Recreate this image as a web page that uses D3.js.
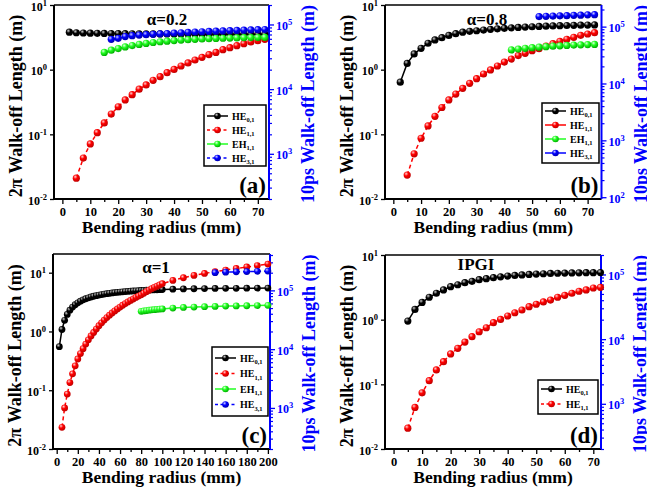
<!DOCTYPE html>
<html>
<head>
<meta charset="utf-8">
<script src="https://cdn.jsdelivr.net/npm/d3@7"></script>
<style>
  body { margin: 0; background: #fff; }
  svg { display: block; }
  text { font-family: "Liberation Serif", "Times New Roman", serif; font-weight: bold; }
</style>
</head>
<body>
<svg id="fig" width="647" height="490"></svg>
<script>
// ---------- Bending radius grids (mm) ----------
const gridAB = [2.5, 5, 7.5, 10, 12.5, 15, 17.5, 20, 22.5, 25, 27.5, 30, 32.5, 35, 37.5, 40,
  42.5, 45, 47.5, 50, 52.5, 55, 57.5, 60, 62.5, 65, 67.5, 70, 72.5];
const gridC = [2.5, 5, 7.5, 10, 12.5, 15, 17.5, 20, 22.5, 25, 27.5, 30, 32.5, 35, 37.5, 40,
  42.5, 45, 47.5, 50, 52.5, 55, 57.5, 60, 62.5, 65, 67.5, 70, 72.5, 75, 77.5, 80, 82.5, 85,
  87.5, 90, 92.5, 95, 97.5, 100, 110, 120, 130, 140, 150, 160, 170, 180, 190, 200];
const gridD = [5, 7.5, 10, 12.5, 15, 17.5, 20, 22.5, 25, 27.5, 30, 32.5, 35, 37.5, 40, 42.5,
  45, 47.5, 50, 52.5, 55, 57.5, 60, 62.5, 65, 67.5, 70, 72.5];

// ---------- (a) alpha = 0.2 ----------
const a_HE01 = [3.80, 3.72, 3.69, 3.67, 3.65, 3.63, 3.62, 3.61, 3.60, 3.59, 3.58, 3.58, 3.57, 3.57,
  3.56, 3.56, 3.55, 3.55, 3.55, 3.54, 3.54, 3.54, 3.53, 3.53, 3.53, 3.53, 3.52, 3.52, 3.52];
const a_HE11 = [0.021, 0.043, 0.071, 0.106, 0.15, 0.206, 0.267, 0.34, 0.41, 0.50, 0.58, 0.685,
  0.78, 0.90, 1.01, 1.14, 1.27, 1.41, 1.55, 1.71, 1.85, 2.04, 2.19, 2.35, 2.52, 2.68, 2.80, 2.95];
const a_EH11 = [1.85, 2.0, 2.12, 2.25, 2.36, 2.46, 2.55, 2.63, 2.70, 2.76, 2.82, 2.87, 2.91, 2.95,
  2.98, 3.01, 3.04, 3.06, 3.08, 3.10, 3.12, 3.13, 3.14, 3.15];
const a_HE31 = [5.9e4, 6.1e4, 6.5e4, 6.7e4, 6.85e4, 6.95e4, 7.05e4, 7.15e4, 7.25e4, 7.35e4, 7.45e4,
  7.55e4, 7.65e4, 7.72e4, 7.8e4, 7.88e4, 7.95e4, 8.02e4, 8.1e4, 8.17e4, 8.24e4, 8.3e4, 8.36e4];

// ---------- (b) alpha = 0.8 ----------
const b_HE01 = [0.64, 1.25, 1.75, 2.14, 2.56, 2.88, 3.12, 3.39, 3.6, 3.8, 3.92, 4.0, 4.1, 4.2,
  4.28, 4.36, 4.43, 4.5, 4.56, 4.61, 4.66, 4.71, 4.75, 4.79, 4.82, 4.85, 4.88, 4.9, 4.92];
const b_HE11 = [0.0234, 0.050, 0.087, 0.135, 0.19, 0.26, 0.34, 0.42, 0.515, 0.615, 0.725, 0.857,
  0.99, 1.14, 1.31, 1.46, 1.65, 1.79, 1.96, 2.11, 2.32, 2.52, 2.74, 2.95, 3.16, 3.4, 3.56, 3.73];
const b_EH11 = [2.02, 2.08, 2.14, 2.19, 2.23, 2.27, 2.31, 2.34, 2.37, 2.40, 2.42, 2.44, 2.46];
const b_HE31 = [1.50e5, 1.52e5, 1.53e5, 1.55e5, 1.56e5, 1.58e5, 1.59e5, 1.61e5, 1.62e5];

// ---------- (c) alpha = 1 ----------
const c_HE01 = [0.55, 1.08, 1.55, 1.95, 2.3, 2.6, 2.85, 3.07, 3.27, 3.45, 3.6, 3.74, 3.86, 3.97,
  4.07, 4.16, 4.24, 4.32, 4.39, 4.46, 4.52, 4.58, 4.63, 4.68, 4.73, 4.77, 4.81, 4.85, 4.89, 4.92,
  4.95, 4.98, 5.01, 5.04, 5.06, 5.09, 5.11, 5.13, 5.15, 5.17, 5.24, 5.29, 5.33, 5.36, 5.39, 5.41,
  5.43, 5.45, 5.46, 5.47];
const c_HE11 = [0.0234, 0.05, 0.086, 0.135, 0.19, 0.26, 0.34, 0.42, 0.51, 0.61, 0.72, 0.84, 0.96,
  1.10, 1.25, 1.40, 1.56, 1.72, 1.89, 2.06, 2.24, 2.42, 2.60, 2.79, 2.98, 3.18, 3.38, 3.58, 3.8,
  4.0, 4.2, 4.47, 4.75, 5.05, 5.35, 5.62, 5.9, 6.2, 6.5, 7.4, 8.2, 9.0, 9.7, 10.4, 11.1, 11.8,
  12.5, 13.2, 14.0];
const c_EH11 = [2.2, 2.24, 2.27, 2.3, 2.33, 2.35, 2.38, 2.4, 2.42, 2.5, 2.56, 2.6, 2.64, 2.67, 2.7,
  2.72, 2.74, 2.76, 2.78];
const c_HE31 = [2.0e5, 2.04e5, 2.07e5, 2.09e5, 2.11e5, 2.13e5];

// ---------- (d) IPGI ----------
const d_HE01 = [0.95, 1.44, 1.85, 2.22, 2.56, 2.88, 3.24, 3.47, 3.73, 3.92, 4.15, 4.3, 4.46, 4.6,
  4.73, 4.83, 4.92, 5.0, 5.07, 5.13, 5.18, 5.22, 5.25, 5.28, 5.3, 5.32, 5.33, 5.34];
const d_HE11 = [0.021, 0.044, 0.074, 0.114, 0.167, 0.224, 0.295, 0.36, 0.45, 0.546, 0.65, 0.75,
  0.90, 1.01, 1.14, 1.28, 1.41, 1.59, 1.73, 1.88, 2.01, 2.22, 2.38, 2.56, 2.75, 2.88, 3.09, 3.16];

// ---------- labels ----------
const xTitle = "Bending radius (mm)";
const yLeftTitle = "2\u03c0 Walk-off Length (m)";
const yRightTitle = "10ps Walk-off Length (m)";

// ---------- mode styles ----------
const modes = {
  HE01: { base: "HE", sub: "0,1", color: "#000000", light: "#d0d0d0", dark: "#000000" },
  HE11: { base: "HE", sub: "1,1", color: "#ff0000", light: "#ffd0d0", dark: "#c00000" },
  EH11: { base: "EH", sub: "1,1", color: "#22ff22", light: "#e0ffe0", dark: "#00b000" },
  HE31: { base: "HE", sub: "3,1", color: "#0000ff", light: "#d0d0ff", dark: "#0000b0" }
};

const svg = d3.select("#fig");
const defs = svg.append("defs");
Object.entries(modes).forEach(([k, m]) => {
  const gr = defs.append("radialGradient").attr("id", "ball-" + k)
    .attr("cx", "38%").attr("cy", "35%").attr("r", "65%").attr("fx", "35%").attr("fy", "30%");
  gr.append("stop").attr("offset", "0%").attr("stop-color", m.light);
  gr.append("stop").attr("offset", "45%").attr("stop-color", m.color);
  gr.append("stop").attr("offset", "100%").attr("stop-color", m.dark);
});

function powLabel(sel, d) {
  const e = Math.round(Math.log10(d));
  sel.text(null);
  sel.append("tspan").text("10");
  sel.append("tspan").attr("dy", -5).attr("font-size", 8.5).text(e);
}

function minorLogTicks(domain) {
  const out = [];
  for (let e = Math.floor(Math.log10(domain[0])); e <= Math.ceil(Math.log10(domain[1])); e++) {
    for (let m = 2; m <= 9; m++) {
      const v = m * Math.pow(10, e);
      if (v >= domain[0] && v <= domain[1]) out.push(v);
    }
  }
  return out;
}

function drawPanel(p) {
  const g = svg.append("g");
  const x = d3.scaleLinear().domain(p.xDomain).range([p.left, p.right]);
  const yL = d3.scaleLog().domain(p.yLeft).range([p.bottom, p.top]);
  const yR = d3.scaleLog().domain(p.yRight).range([p.bottom, p.top]);

  // bottom axis: minor then major ticks
  g.append("g").attr("transform", `translate(0,${p.bottom})`)
    .call(d3.axisBottom(x).tickValues(p.xMinor).tickSize(3).tickSizeOuter(0).tickFormat(""))
    .call(s => s.select(".domain").remove())
    .call(s => s.selectAll("line").attr("stroke", "#000").attr("stroke-width", 1.3));
  g.append("g").attr("transform", `translate(0,${p.bottom})`)
    .call(d3.axisBottom(x).tickValues(p.xMajor).tickSize(5).tickSizeOuter(0).tickPadding(3)
      .tickFormat(d3.format("d")))
    .call(s => s.select(".domain").remove())
    .call(s => s.selectAll("line").attr("stroke", "#000").attr("stroke-width", 1.3))
    .call(s => s.selectAll("text").attr("font-size", 12.5).attr("fill", "#000")
      .attr("font-family", "Liberation Serif").attr("font-weight", "bold"));

  // left axis
  g.append("g").attr("transform", `translate(${p.left},0)`)
    .call(d3.axisLeft(yL).tickValues(p.yLeftTicks).tickSize(4).tickSizeOuter(0).tickPadding(3))
    .call(s => s.select(".domain").remove())
    .call(s => s.selectAll("line").attr("stroke", "#000").attr("stroke-width", 1.3))
    .call(s => s.selectAll("text").attr("font-size", 12).attr("fill", "#000")
      .attr("font-family", "Liberation Serif").attr("font-weight", "bold").attr("dy", "0.42em")
      .each(function (d) { powLabel(d3.select(this), d); }));

  // right axis (blue)
  g.append("g").attr("transform", `translate(${p.right},0)`)
    .call(d3.axisRight(yR).tickValues(minorLogTicks(p.yRight)).tickSize(3).tickSizeOuter(0).tickFormat(""))
    .call(s => s.select(".domain").remove())
    .call(s => s.selectAll("line").attr("stroke", "#0000ff").attr("stroke-width", 1.2));
  g.append("g").attr("transform", `translate(${p.right},0)`)
    .call(d3.axisRight(yR).tickValues(p.yRightTicks).tickSize(5).tickSizeOuter(0).tickPadding(2))
    .call(s => s.select(".domain").remove())
    .call(s => s.selectAll("line").attr("stroke", "#0000ff").attr("stroke-width", 1.3))
    .call(s => s.selectAll("text").attr("font-size", 12).attr("fill", "#0000ff")
      .attr("font-family", "Liberation Serif").attr("font-weight", "bold").attr("dy", "0.42em")
      .each(function (d) { powLabel(d3.select(this), d); }));

  // frame
  g.append("line").attr("x1", p.left).attr("x2", p.right).attr("y1", p.top).attr("y2", p.top)
    .attr("stroke", "#000").attr("stroke-width", 1.6);
  g.append("line").attr("x1", p.left).attr("x2", p.right).attr("y1", p.bottom).attr("y2", p.bottom)
    .attr("stroke", "#000").attr("stroke-width", 2);
  g.append("line").attr("x1", p.left).attr("x2", p.left).attr("y1", p.top).attr("y2", p.bottom)
    .attr("stroke", "#000").attr("stroke-width", 2);
  g.append("line").attr("x1", p.right).attr("x2", p.right).attr("y1", p.top).attr("y2", p.bottom)
    .attr("stroke", "#0000ff").attr("stroke-width", 2);

  // series
  p.series.forEach(s => {
    const m = modes[s.mode];
    const y = s.axis === "right" ? yR : yL;
    const pts = s.x.map((r, i) => [r, s.y[i]]);
    g.append("path")
      .attr("d", d3.line().x(d => x(d[0])).y(d => y(d[1]))(pts))
      .attr("fill", "none").attr("stroke", m.color).attr("stroke-width", 1.5)
      .attr("stroke-dasharray", s.dashed ? "4,3" : null);
    g.append("g").selectAll("circle").data(pts).join("circle")
      .attr("cx", d => x(d[0])).attr("cy", d => y(d[1])).attr("r", p.r)
      .attr("fill", `url(#ball-${s.mode})`);
  });

  // legend
  const L = p.legend;
  g.append("rect").attr("x", L.x).attr("y", L.y).attr("width", L.w).attr("height", L.h)
    .attr("fill", "#fff").attr("stroke", "#000").attr("stroke-width", 1.5);
  L.items.forEach((it, i) => {
    const m = modes[it.mode];
    const cy = L.y + L.first + i * L.step;
    g.append("line").attr("x1", L.x + 3).attr("x2", L.x + 24).attr("y1", cy).attr("y2", cy)
      .attr("stroke", m.color).attr("stroke-width", 1.5)
      .attr("stroke-dasharray", it.dashed ? "3,2.5" : null);
    g.append("circle").attr("cx", L.x + 13.5).attr("cy", cy).attr("r", 3.3)
      .attr("fill", `url(#ball-${it.mode})`);
    const t = g.append("text").attr("x", L.x + 28).attr("y", cy + 3.5).attr("font-size", 10);
    t.append("tspan").text(m.base);
    t.append("tspan").attr("dy", 2.5).attr("font-size", 6.5).text(m.sub);
  });

  // titles and labels
  g.append("text").attr("x", p.title.x).attr("y", p.title.y).attr("text-anchor", "middle")
    .attr("font-size", 17).text(p.title.text);
  g.append("text").attr("x", p.right - 3).attr("y", p.bottom - 6).attr("text-anchor", "end")
    .attr("font-size", 23).text(p.tag);
  g.append("text").attr("x", (p.left + p.right) / 2).attr("y", p.bottom + 34)
    .attr("text-anchor", "middle").attr("font-size", 17.5).text(xTitle);
  g.append("text").attr("transform", `translate(${p.left - 32},${(p.top + p.bottom) / 2 + 4}) rotate(-90)`)
    .attr("text-anchor", "middle").attr("font-size", 18).text(yLeftTitle);
  g.append("text").attr("transform", `translate(${p.right + 45},${(p.top + p.bottom) / 2 + 2}) rotate(-90)`)
    .attr("text-anchor", "middle").attr("font-size", 18).attr("fill", "#0000ff").text(yRightTitle);
}

const ticks70 = [0, 10, 20, 30, 40, 50, 60, 70];
const minor70 = [5, 15, 25, 35, 45, 55, 65];

drawPanel({
  left: 54, right: 269, top: 5, bottom: 199, r: 3.6,
  xDomain: [-3, 74], xMajor: ticks70, xMinor: minor70,
  yLeft: [0.01, 10], yLeftTicks: [0.01, 0.1, 1, 10],
  yRight: [200, 2e5], yRightTicks: [1e3, 1e4, 1e5],
  title: { text: "\u03b1=0.2", x: 167, y: 25 }, tag: "(a)",
  series: [
    { mode: "HE01", x: gridAB, y: a_HE01 },
    { mode: "HE11", x: gridAB.slice(1), y: a_HE11, dashed: true },
    { mode: "EH11", x: gridAB.slice(5), y: a_EH11 },
    { mode: "HE31", x: gridAB.slice(6), y: a_HE31, axis: "right", dashed: true }
  ],
  legend: { x: 204, y: 105, w: 62, h: 61, first: 11, step: 14, items: [
    { mode: "HE01" }, { mode: "HE11", dashed: true }, { mode: "EH11" }, { mode: "HE31", dashed: true }] }
});

drawPanel({
  left: 385, right: 601.5, top: 5, bottom: 199, r: 3.6,
  xDomain: [-3, 75], xMajor: ticks70, xMinor: minor70,
  yLeft: [0.01, 10], yLeftTicks: [0.01, 0.1, 1, 10],
  yRight: [93, 2.4e5], yRightTicks: [1e2, 1e3, 1e4, 1e5],
  title: { text: "\u03b1=0.8", x: 487, y: 25 }, tag: "(b)",
  series: [
    { mode: "HE01", x: gridAB, y: b_HE01 },
    { mode: "HE11", x: gridAB.slice(1), y: b_HE11, dashed: true },
    { mode: "EH11", x: gridAB.slice(16), y: b_EH11 },
    { mode: "HE31", x: gridAB.slice(20), y: b_HE31, axis: "right" }
  ],
  legend: { x: 542, y: 103, w: 57, h: 60, first: 8, step: 14, items: [
    { mode: "HE01" }, { mode: "HE11" }, { mode: "EH11" }, { mode: "HE31" }] }
});

drawPanel({
  left: 53, right: 270, top: 254, bottom: 449, r: 3.4,
  xDomain: [-3.5, 202], xMajor: [0, 20, 40, 60, 80, 100, 120, 140, 160, 180, 200],
  xMinor: [10, 30, 50, 70, 90, 110, 130, 150, 170, 190],
  yLeft: [0.01, 20.8], yLeftTicks: [0.01, 0.1, 1, 10],
  yRight: [200, 4.16e5], yRightTicks: [1e3, 1e4, 1e5],
  title: { text: "\u03b1=1", x: 156, y: 273 }, tag: "(c)",
  series: [
    { mode: "HE01", x: gridC, y: c_HE01 },
    { mode: "HE11", x: gridC.slice(1), y: c_HE11, dashed: true },
    { mode: "EH11", x: gridC.slice(31), y: c_EH11 },
    { mode: "HE31", x: gridC.slice(44), y: c_HE31, axis: "right", dashed: true }
  ],
  legend: { x: 212, y: 347, w: 56, h: 69, first: 11, step: 15.5, items: [
    { mode: "HE01" }, { mode: "HE11", dashed: true }, { mode: "EH11" }, { mode: "HE31", dashed: true }] }
});

drawPanel({
  left: 385, right: 601, top: 255, bottom: 449, r: 3.6,
  xDomain: [-3, 72.7], xMajor: ticks70, xMinor: minor70,
  yLeft: [0.01, 10], yLeftTicks: [0.01, 0.1, 1, 10],
  yRight: [200, 2e5], yRightTicks: [1e3, 1e4, 1e5],
  title: { text: "IPGI", x: 476, y: 270 }, tag: "(d)",
  series: [
    { mode: "HE01", x: gridD, y: d_HE01 },
    { mode: "HE11", x: gridD, y: d_HE11, dashed: true }
  ],
  legend: { x: 538, y: 380, w: 60, h: 34, first: 9, step: 15, items: [
    { mode: "HE01" }, { mode: "HE11", dashed: true }] }
});
</script>
</body>
</html>
